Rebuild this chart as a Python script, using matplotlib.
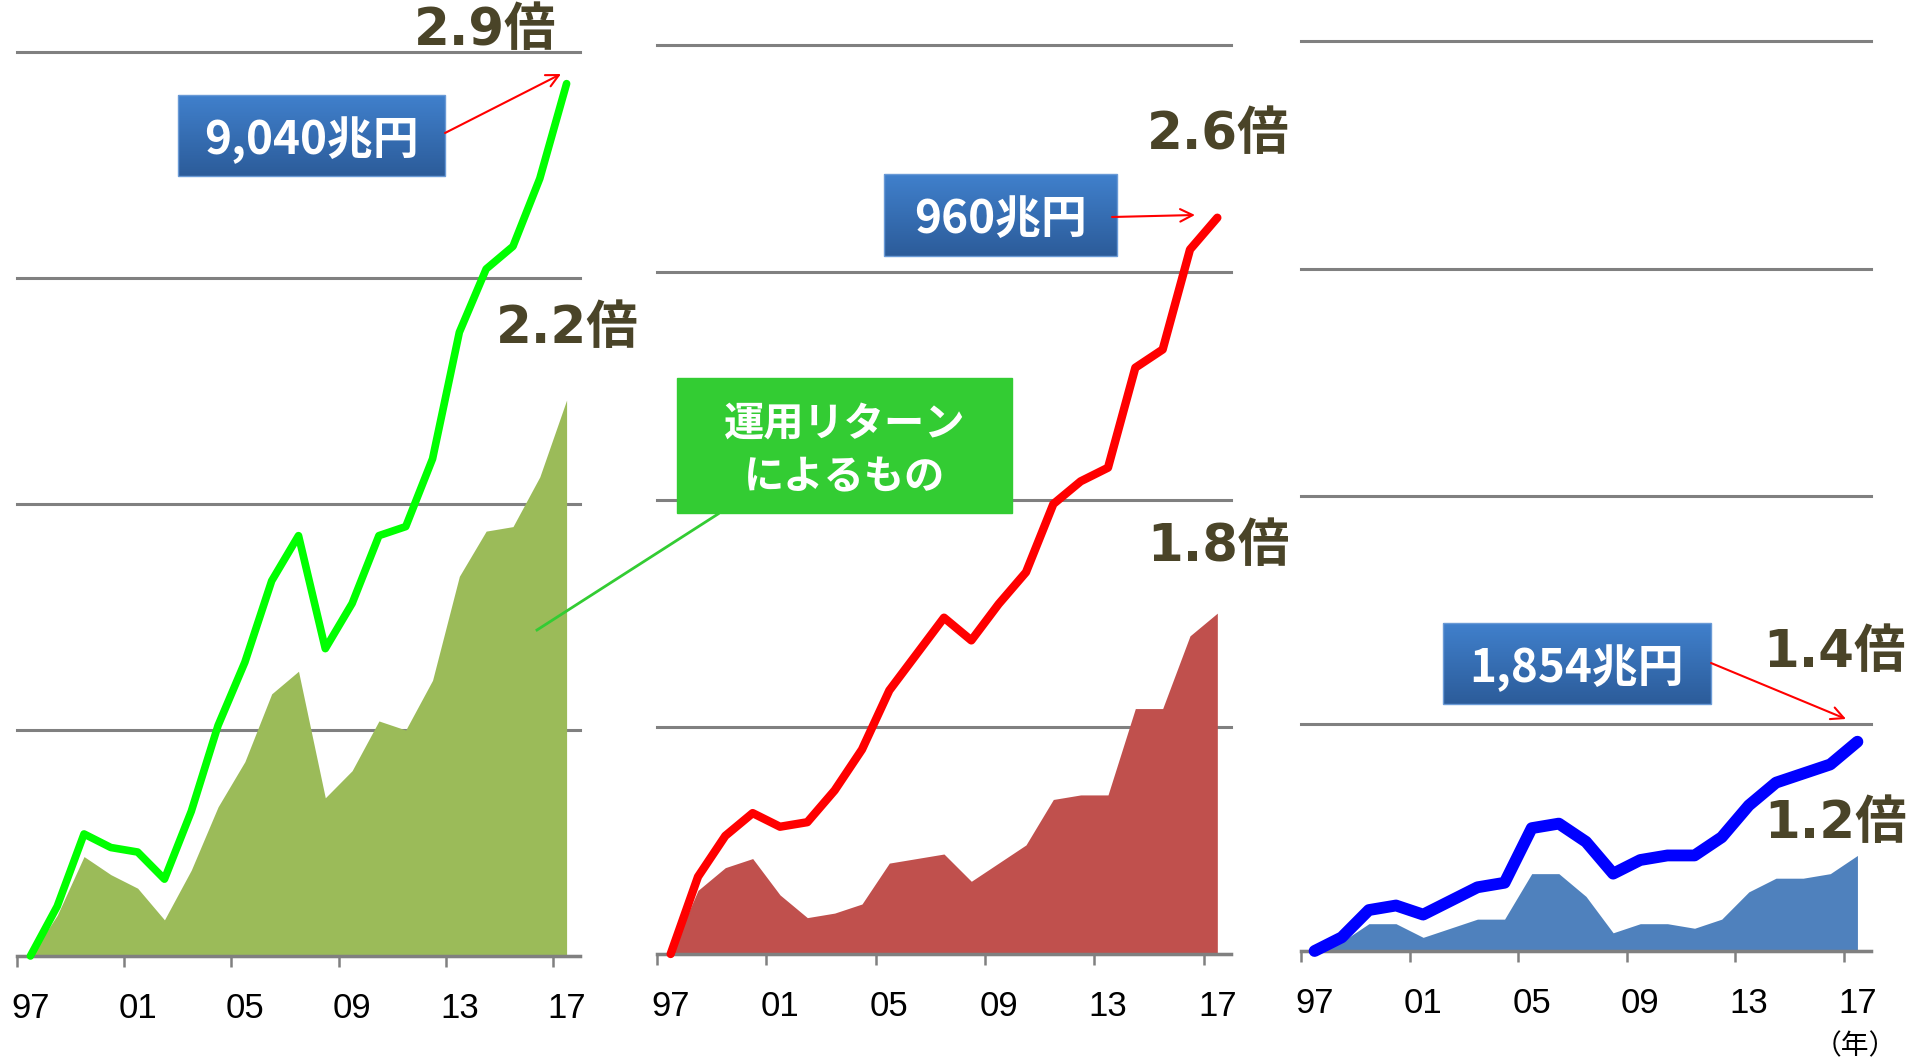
import numpy as np
import matplotlib
matplotlib.use("Agg")
import matplotlib.pyplot as plt
from matplotlib.colors import LinearSegmentedColormap
from matplotlib.patches import Rectangle

plt.rcParams['font.family'] = ['DejaVu Sans', 'Noto Sans CJK JP']

# 1997年 = 1.0 とした倍率
years = ['97', '98', '99', '00', '01', '02', '03', '04', '05', '06', '07',
         '08', '09', '10', '11', '12', '13', '14', '15', '16', '17']
tick_years = ['97', '01', '05', '09', '13', '17']

total_green = [1.00, 1.11, 1.27, 1.24, 1.23, 1.17, 1.32, 1.51, 1.65, 1.83, 1.93,
               1.68, 1.78, 1.93, 1.95, 2.10, 2.38, 2.52, 2.57, 2.72, 2.93]
return_green = [1.00, 1.09, 1.22, 1.18, 1.15, 1.08, 1.19, 1.33, 1.43, 1.58, 1.63,
                1.35, 1.41, 1.52, 1.50, 1.61, 1.84, 1.94, 1.95, 2.06, 2.23]

total_red = [1.00, 1.17, 1.26, 1.31, 1.28, 1.29, 1.36, 1.45, 1.58, 1.66, 1.74,
             1.69, 1.77, 1.84, 1.99, 2.04, 2.07, 2.29, 2.33, 2.55, 2.62]
return_red = [1.00, 1.14, 1.19, 1.21, 1.13, 1.08, 1.09, 1.11, 1.20, 1.21, 1.22,
              1.16, 1.20, 1.24, 1.34, 1.35, 1.35, 1.54, 1.54, 1.70, 1.75]

total_blue = [1.00, 1.03, 1.09, 1.10, 1.08, 1.11, 1.14, 1.15, 1.27, 1.28, 1.24,
              1.17, 1.20, 1.21, 1.21, 1.25, 1.32, 1.37, 1.39, 1.41, 1.46]
return_blue = [1.00, 1.02, 1.06, 1.06, 1.03, 1.05, 1.07, 1.07, 1.17, 1.17, 1.12,
               1.04, 1.06, 1.06, 1.05, 1.07, 1.13, 1.16, 1.16, 1.17, 1.21]

totals = [total_green, total_red, total_blue]
returns = [return_green, return_red, return_blue]
line_colors = ['#00FF00', '#FF0000', '#0000FF']
line_widths = [5.5, 6.0, 8.5]
area_colors = ['#9BBB59', '#C0504D', '#4F81BD']

box_labels = ['9,040兆円', '960兆円', '1,854兆円']
ratio_total = ['2.9倍', '2.6倍', '1.4倍']
ratio_return = ['2.2倍', '1.8倍', '1.2倍']

W, H = 1926, 1062
fig = plt.figure(figsize=(W / 100, H / 100), dpi=100)

# パネルの位置 (left, top, right, bottom) ピクセル
rects = [(17, 52, 580, 956), (657, 45, 1231, 954), (1301, 41, 1871, 951)]
x = np.arange(len(years))

for i in range(3):
    l, t, r, b = rects[i]
    ax = fig.add_axes([l / W, 1 - b / H, (r - l) / W, (b - t) / H])
    ax.fill_between(x, 1.0, returns[i], color=area_colors[i], lw=0, zorder=2)
    ax.plot(x, totals[i], color=line_colors[i], lw=line_widths[i], solid_capstyle='round',
            solid_joinstyle='round', zorder=4, clip_on=False)
    ax.set_xlim(-0.5, len(years) - 0.5)
    ax.set_ylim(1.0, 3.0)
    ax.set_yticks([1.0, 1.5, 2.0, 2.5, 3.0])
    ax.yaxis.grid(True, color='#808080', lw=2.2)
    for gl in ax.get_ygridlines():
        gl.set_clip_on(False)
    ax.set_axisbelow(True)
    ax.tick_params(axis='y', length=0, labelleft=False)
    for s in ['left', 'right', 'top']:
        ax.spines[s].set_visible(False)
    ax.spines['bottom'].set_color('#808080')
    ax.spines['bottom'].set_linewidth(2.5)
    ax.set_xticks(np.arange(-0.5, len(years) - 1, 4))
    ax.set_xticklabels([])
    ax.tick_params(axis='x', which='major', length=8, width=1.8, color='#808080')
    ax.set_xticks(x[::4], minor=True)
    ax.set_xticklabels(tick_years, minor=True, fontsize=25, family='Liberation Sans')
    ax.tick_params(axis='x', which='minor', length=0, pad=26)
    ax.patch.set_alpha(0)

# 注記用のオーバーレイ
ov = fig.add_axes([0, 0, 1, 1], zorder=10)
box_cmap = LinearSegmentedColormap.from_list('box', ['#4080CC', '#2C5C9A'])
grad = np.linspace(0, 1, 100).reshape(-1, 1)
box_rects = [(178, 95, 445, 176), (884, 174, 1117, 256), (1443, 623, 1711, 704)]
arrows = [((445, 133), (561, 74)), ((1112, 217), (1195, 215)), ((1711, 663), (1846, 719))]
for (x0, y0, x1, y1), lab, (p0, p1) in zip(box_rects, box_labels, arrows):
    ov.imshow(grad, extent=(x0, x1, y1, y0), cmap=box_cmap, aspect='auto', origin='upper', zorder=1)
    ov.add_patch(Rectangle((x0, y0), x1 - x0, y1 - y0, fill=False, ec='#6A9AD6', lw=1, zorder=2))
    ov.text((x0 + x1) / 2, (y0 + y1) / 2 + 5, lab, color='white', fontsize=33, fontweight='bold',
            ha='center', va='center', family=['Noto Sans CJK JP'], zorder=3)
    ov.annotate('', xy=p1, xytext=p0,
                arrowprops=dict(arrowstyle='->,head_length=0.9,head_width=0.45',
                                color='red', lw=1.5, shrinkA=0, shrinkB=0))

# 運用リターンの説明
ov.add_patch(Rectangle((677, 378), 335, 135, color='#33CC33', zorder=2))
ov.text(844.5, 451, '運用リターン\nによるもの', color='white', fontsize=29, fontweight='bold',
        ha='center', va='center', linespacing=1.4, family=['Noto Sans CJK JP'], zorder=3)
ov.plot([718, 537], [514, 630], color='#33CC33', lw=2, zorder=2)

txt_pos_total = [(485, 31), (1218, 135), (1834, 653)]
txt_pos_return = [(567, 329), (1218, 547), (1836, 824)]
for lab, (px, py) in zip(ratio_total, txt_pos_total):
    ov.text(px, py, lab, color='#4A4428', fontsize=37, fontweight='bold', ha='center', va='center')
for lab, (px, py) in zip(ratio_return, txt_pos_return):
    ov.text(px, py, lab, color='#4A4428', fontsize=37, fontweight='bold', ha='center', va='center')

ov.text(1855, 1046, '（年）', fontsize=20, ha='center', va='center', family=['Noto Sans CJK JP'])

ov.set_xlim(0, W)
ov.set_ylim(H, 0)
ov.axis('off')

fig.savefig('out.png', dpi=100)
